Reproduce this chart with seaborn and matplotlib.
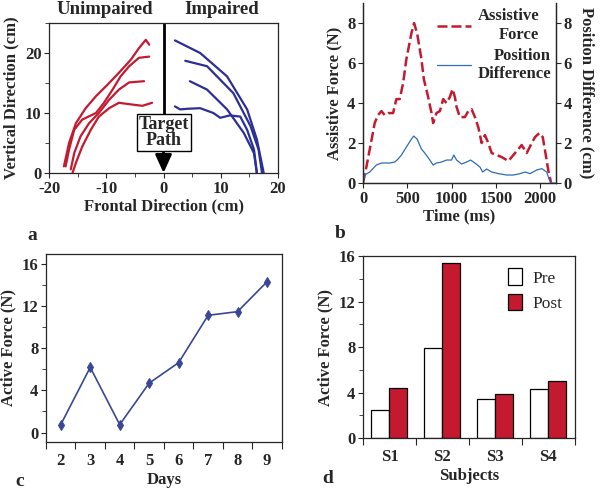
import numpy as np
import pandas as pd
import matplotlib
matplotlib.use("Agg")
import matplotlib.pyplot as plt
from matplotlib.ticker import MultipleLocator, FixedLocator, NullFormatter, FixedFormatter
import seaborn as sns

# ---------- DATA ----------
# panel a: hand paths (cm), unimpaired arm (red) and impaired arm (blue)
unimp_x = [
    [-17.4, -16.5, -15.3, -13.6, -11.8, -9.8, -7.8, -5.7, -4.3, -3.1, -2.5],
    [-17.1, -16.5, -15.6, -14.2, -11.8, -10.4, -8.9, -7.5, -6.0, -4.3, -2.5],
    [-16.2, -15.6, -14.5, -13.0, -11.3, -9.5, -7.8, -6.0, -3.4],
    [-15.9, -15.3, -14.2, -12.7, -11.3, -9.5, -7.8, -5.4, -3.7, -2.0],
]
unimp_y = [
    [1.1, 5.0, 8.3, 10.8, 12.8, 14.7, 16.7, 18.9, 20.8, 22.2, 21.4],
    [1.1, 3.9, 7.2, 8.9, 10.0, 11.7, 13.9, 16.1, 17.8, 19.2, 19.4],
    [0.6, 3.3, 6.1, 8.3, 10.0, 12.2, 13.9, 15.1, 15.3],
    [0.0, 1.7, 4.4, 7.2, 9.4, 10.8, 11.7, 11.4, 11.2, 11.7],
]
imp_x = [
    [2.0, 6.4, 11.1, 14.6, 16.3, 17.5],
    [3.8, 7.6, 12.2, 15.2, 16.6, 17.2],
    [4.6, 7.6, 11.1, 14.0, 15.8, 16.3],
    [2.0, 2.9, 4.1, 6.4, 8.7, 9.9, 11.6, 13.4, 14.6, 15.8, 16.3],
]
imp_y = [
    [22.1, 20.0, 16.1, 10.6, 5.6, 0.0],
    [18.7, 17.8, 13.3, 7.8, 3.9, 0.0],
    [15.3, 13.9, 10.6, 6.7, 3.3, 0.0],
    [11.1, 10.6, 10.7, 10.8, 10.0, 9.2, 9.6, 9.4, 7.2, 3.9, 0.0],
]

# panel b: assistive force (N) and position difference (cm) over time (ms)
force_t = [0, 38, 94, 132, 170, 208, 245, 283, 340, 377, 415, 453, 490, 547, 577,
           611, 660, 687, 736, 774, 792, 830, 868, 906, 943, 981, 1011, 1038, 1057,
           1094, 1151, 1189, 1226, 1264, 1302, 1340, 1377, 1415, 1453, 1509, 1566,
           1642, 1698, 1755, 1792, 1849, 1906, 1943, 1992, 2030, 2057, 2094, 2125]
force_n = [0.0, 0.8, 2.1, 3.0, 3.4, 3.6, 3.4, 3.5, 3.5, 4.2, 4.2, 5.0, 6.2, 7.5, 8.0,
           7.5, 6.2, 5.2, 4.3, 3.5, 3.0, 3.5, 3.6, 4.2, 4.0, 4.3, 4.7, 4.3, 3.8,
           3.3, 3.3, 3.6, 3.7, 3.3, 2.8, 2.0, 2.4, 2.0, 1.5, 1.4, 1.3,
           1.1, 1.4, 1.7, 1.9, 1.5, 2.0, 2.3, 2.5, 2.3, 1.6, 0.6, 0.0]
posdiff_t = [0, 19, 75, 151, 208, 302, 358, 396, 434, 490, 547, 574, 611, 660, 698,
             755, 792, 830, 887, 943, 1000, 1026, 1057, 1113, 1170, 1215, 1264, 1321,
             1351, 1396, 1453, 1528, 1623, 1698, 1774, 1830, 1887, 1962, 2019, 2075,
             2106, 2132, 2170]
posdiff_cm = [0.0, 0.4, 0.55, 0.9, 1.0, 1.0, 1.05, 1.2, 1.4, 1.8, 2.2, 2.35, 2.2, 1.7, 1.5,
              1.15, 0.9, 1.0, 1.05, 1.15, 1.15, 1.4, 1.15, 0.95, 1.05, 1.15, 1.0, 0.8,
              0.55, 0.7, 0.55, 0.47, 0.4, 0.4, 0.47, 0.55, 0.47, 0.65, 0.72, 0.55,
              0.13, 0.0, 0.0]

# panel c: active force over training days
days = [2, 3, 4, 5, 6, 7, 8, 9]
active_force = [0.75, 6.2, 0.75, 4.7, 6.65, 11.15, 11.5, 14.35]

# panel d: pre / post active force per subject
subjects = ["S1", "S2", "S3", "S4"]
pre_force = [2.5, 7.9, 3.4, 4.3]
post_force = [4.4, 15.4, 3.9, 5.0]

# ---------- STYLE ----------
RED = "#c41a2f"
BLUE = "#2c2f96"
BLUE_B = "#2f6cb5"
BLUE_C = "#3a4796"

sns.set_style("ticks")
plt.rcParams["font.family"] = ["Liberation Serif", "DejaVu Serif"]
plt.rcParams["font.weight"] = "bold"
plt.rcParams["axes.labelweight"] = "bold"
plt.rcParams["font.size"] = 12
plt.rcParams["axes.unicode_minus"] = False
plt.rcParams["axes.linewidth"] = 0.9
plt.rcParams["xtick.direction"] = "out"
plt.rcParams["ytick.direction"] = "out"
plt.rcParams["xtick.major.size"] = 3.5
plt.rcParams["ytick.major.size"] = 3.5
plt.rcParams["xtick.minor.size"] = 3
plt.rcParams["ytick.minor.size"] = 3
plt.rcParams["xtick.major.pad"] = 2
plt.rcParams["ytick.major.pad"] = 2

fig = plt.figure(figsize=(6, 4.9), dpi=100)

# =====================================================
# PANEL A
# =====================================================
ax_a = fig.add_axes([0.0817, 0.647, 0.3817, 0.306])
for xs, ys in zip(unimp_x, unimp_y):
    sns.lineplot(x=xs, y=ys, sort=False, estimator=None, color=RED, lw=1.6, ax=ax_a)
for xs, ys in zip(imp_x, imp_y):
    sns.lineplot(x=xs, y=ys, sort=False, estimator=None, color=BLUE, lw=1.6, ax=ax_a)

ax_a.set_xlim(-20, 20)
ax_a.set_ylim(0, 25)
ax_a.set_xticks([-20, -10, 0, 10, 20])
ax_a.set_yticks([0, 10, 20])
ax_a.xaxis.set_minor_locator(MultipleLocator(5))
ax_a.yaxis.set_minor_locator(MultipleLocator(5))
ax_a.set_xlabel("Frontal Direction (cm)", labelpad=1)
ax_a.set_ylabel("Vertical Direction (cm)", labelpad=4)

ax_a.axvline(0, ymin=0.39, ymax=1, color="black", lw=2)
ax_a.annotate("", xy=(0, 0), xytext=(0, 4.1),
              arrowprops=dict(arrowstyle="-|>,head_length=11,head_width=5",
                              mutation_scale=1, color="black", lw=2,
                              shrinkA=0, shrinkB=0))
ax_a.text(0, 6.75, "Target\nPath", ha="center", va="center", linespacing=0.92,
          fontsize=13,
          bbox=dict(boxstyle="square,pad=0.1", fc="white", ec="black", lw=1))
ax_a.text(-10.2, 27.2, "Unimpaired", ha="center", va="center", fontsize=13.5)
ax_a.text(10.1, 27.2, "Impaired", ha="center", va="center", fontsize=13.5)

# =====================================================
# PANEL B
# =====================================================
ax_b = fig.add_axes([0.605, 0.6265, 0.3217, 0.367])
sns.lineplot(x=force_t, y=force_n, sort=False, estimator=None, color=RED, lw=1.8,
             linestyle=(0, (4, 1.6)), ax=ax_b)
ax_b2 = ax_b.twinx()
sns.lineplot(x=posdiff_t, y=posdiff_cm, sort=False, estimator=None, color=BLUE_B,
             lw=0.9, ax=ax_b2)
for ax in (ax_b, ax_b2):
    ax.set_ylim(0, 9)
    ax.set_yticks([0, 2, 4, 6, 8])
    ax.spines["top"].set_visible(False)
ax_b.set_xlim(0, 2180)
ax_b.set_xticks([0, 500, 1000, 1500, 2000])
ax_b.set_xlabel("Time (ms)", labelpad=1)
ax_b.set_ylabel("Assistive Force (N)", labelpad=3)
ax_b2.set_ylabel("Position Difference (cm)", rotation=270, labelpad=16)
leg = ax_b2.legend([ax_b.lines[0], ax_b2.lines[0]],
                   ["Assistive\nForce", "Position\nDifference"],
                   loc="upper right", frameon=False, handlelength=2.0,
                   handletextpad=0.4, labelspacing=0.3, borderaxespad=0.1,
                   borderpad=0.2)
for t in leg.get_texts():
    t.set_multialignment("right")

# =====================================================
# PANEL C
# =====================================================
ax_c = fig.add_axes([0.0767, 0.098, 0.393, 0.384])
sns.lineplot(x=days, y=active_force, marker="d", markersize=5, color=BLUE_C,
             markeredgecolor=BLUE_C, lw=1.2, ax=ax_c)
ax_c.set_xlim(1.5, 9.5)
ax_c.set_ylim(-0.9, 17)
ax_c.xaxis.set_major_locator(FixedLocator([d - 0.5 for d in days] + [days[-1] + 0.5]))
ax_c.xaxis.set_major_formatter(NullFormatter())
ax_c.xaxis.set_minor_locator(FixedLocator(days))
ax_c.xaxis.set_minor_formatter(FixedFormatter([str(d) for d in days]))
ax_c.tick_params(axis="x", which="minor", length=0, pad=8)
ax_c.tick_params(axis="x", which="major", length=5)
ax_c.set_yticks([0, 4, 8, 12, 16])
ax_c.yaxis.set_minor_locator(MultipleLocator(2))
ax_c.set_xlabel("Days", labelpad=2)
ax_c.set_ylabel("Active Force (N)", labelpad=4)

# =====================================================
# PANEL D
# =====================================================
ax_d = fig.add_axes([0.605, 0.106, 0.353, 0.371])
df_d = pd.DataFrame({
    "Subject": subjects * 2,
    "Phase": ["Pre"] * len(subjects) + ["Post"] * len(subjects),
    "Force": pre_force + post_force,
})
sns.barplot(data=df_d, x="Subject", y="Force", hue="Phase",
            palette={"Pre": "white", "Post": RED}, saturation=1, edgecolor="black",
            linewidth=0.9, width=0.68, gap=0, ax=ax_d)
ax_d.set_xlim(-0.5, 3.5)
ax_d.set_ylim(0, 16)
ax_d.xaxis.set_major_locator(FixedLocator([-0.5, 0.5, 1.5, 2.5, 3.5]))
ax_d.xaxis.set_major_formatter(NullFormatter())
ax_d.xaxis.set_minor_locator(FixedLocator([0, 1, 2, 3]))
ax_d.xaxis.set_minor_formatter(FixedFormatter(subjects))
ax_d.tick_params(axis="x", which="minor", length=0, pad=8)
ax_d.tick_params(axis="x", which="major", length=5)
ax_d.set_yticks([0, 4, 8, 12, 16])
ax_d.yaxis.set_minor_locator(MultipleLocator(2))
ax_d.set_xlabel("Subjects", labelpad=2)
ax_d.set_ylabel("Active Force (N)", labelpad=4)
ax_d.legend(loc="upper right", frameon=False, handlelength=0.8, handleheight=1.1,
            handletextpad=0.6, labelspacing=0.4, borderaxespad=0.3,
            prop=dict(family="Liberation Serif", weight="normal", size=12.5))

# ---------- PANEL LETTERS ----------
fig.text(27 / 600, 1 - 240 / 490, "a", fontsize=14)
fig.text(335 / 600, 1 - 238 / 490, "b", fontsize=14)
fig.text(15 / 600, 1 - 486 / 490, "c", fontsize=14)
fig.text(322 / 600, 1 - 483 / 490, "d", fontsize=14)

fig.savefig("out.png", dpi=100)
